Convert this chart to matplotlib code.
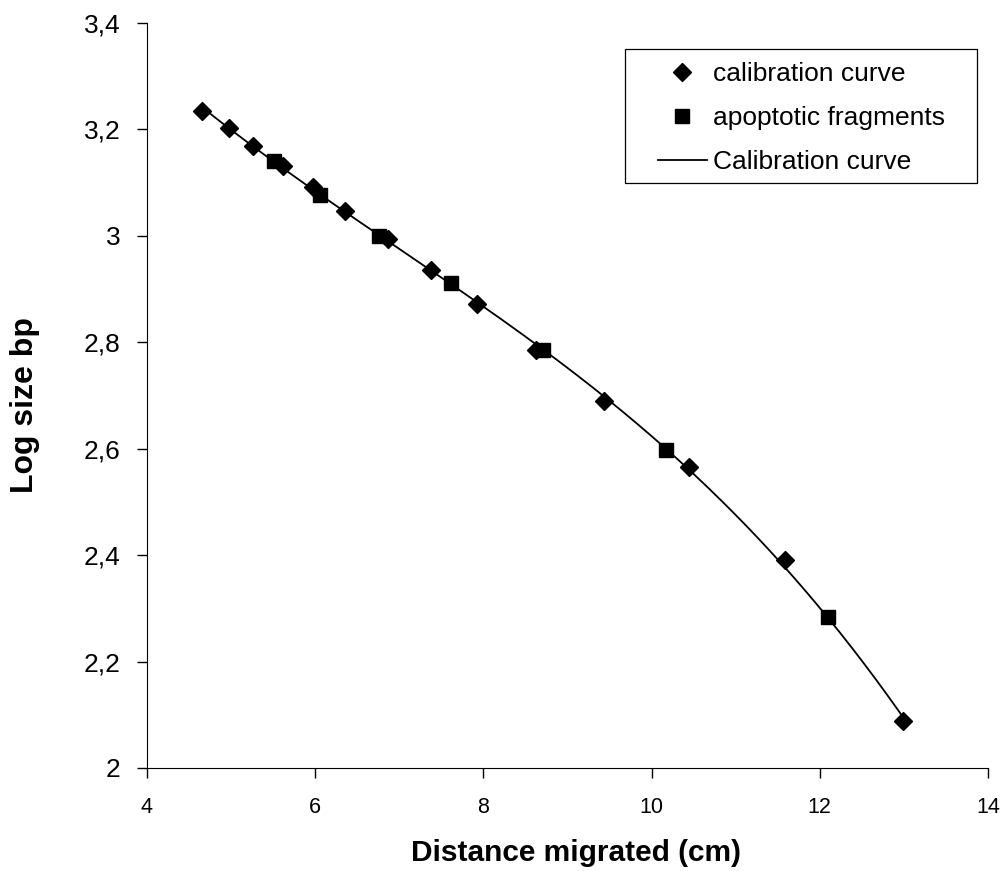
import matplotlib
matplotlib.use("Agg")
import matplotlib.pyplot as plt
from matplotlib.patches import Rectangle
import numpy as np

plt.rcParams['font.family'] = ['Liberation Sans', 'DejaVu Sans']

# calibration ladder (diamonds)
calib_x = [4.65, 4.97, 5.26, 5.62, 5.97, 6.36, 6.87, 7.38, 7.93, 8.63, 9.43, 10.44, 11.59, 12.99]
calib_y = [3.235, 3.203, 3.169, 3.131, 3.092, 3.047, 2.994, 2.936, 2.871, 2.786, 2.690, 2.565, 2.390, 2.089]
# apoptotic fragments (squares)
frag_x = [5.51, 6.06, 6.76, 7.62, 8.71, 10.17, 12.10]
frag_y = [3.141, 3.076, 3.000, 2.911, 2.786, 2.598, 2.283]

x_ticks = [4, 6, 8, 10, 12, 14]
y_ticks = [2, 2.2, 2.4, 2.6, 2.8, 3, 3.2, 3.4]
y_labels = ['2', '2,2', '2,4', '2,6', '2,8', '3', '3,2', '3,4']

# polynomial trendline through the calibration points
coef = np.polyfit(calib_x, calib_y, 3)
xs = np.linspace(min(calib_x), max(calib_x), 300)

fig = plt.figure(figsize=(10.08, 8.71), dpi=100)
ax = fig.add_axes([0.1458, 0.1183, 0.8343, 0.8553])

ax.plot(calib_x, calib_y, 'D', color='black', ms=9, label='calibration curve', zorder=3)
ax.plot(frag_x, frag_y, 's', color='black', ms=10, label='apoptotic fragments', zorder=3)
ax.plot(xs, np.polyval(coef, xs), '-', color='black', lw=1.3, label='Calibration curve', zorder=2)

ax.set_xlim(4, 14)
ax.set_ylim(2, 3.4)
ax.set_xticks(x_ticks)
ax.set_yticks(y_ticks)
ax.set_yticklabels(y_labels)
ax.tick_params(direction='out', length=7, width=1)
ax.tick_params(axis='x', labelsize=15.5, pad=14)
ax.tick_params(axis='y', labelsize=19, pad=12)
ax.spines['top'].set_visible(False)
ax.spines['right'].set_visible(False)

ax.set_xlabel('Distance migrated (cm)', fontsize=21.5, fontweight='bold', labelpad=18)
ax.xaxis.set_label_coords(0.51, -0.095)
ax.set_ylabel('Log size bp', fontsize=23, fontweight='bold')
ax.yaxis.set_label_coords(-0.127, 0.487)

# legend box drawn separately to get the wide left margin of the original
ax.add_patch(Rectangle((0.5684, 0.785), 0.4185, 0.180, transform=ax.transAxes,
                       fill=False, edgecolor='black', lw=0.9, clip_on=False, zorder=4))
ax.legend(loc='upper left', bbox_to_anchor=(0.6076, 0.947), fontsize=19, frameon=False,
          handlelength=1.85, handletextpad=0.25, borderpad=0, borderaxespad=0,
          labelspacing=0.75)

fig.savefig('out.png', dpi=100)
